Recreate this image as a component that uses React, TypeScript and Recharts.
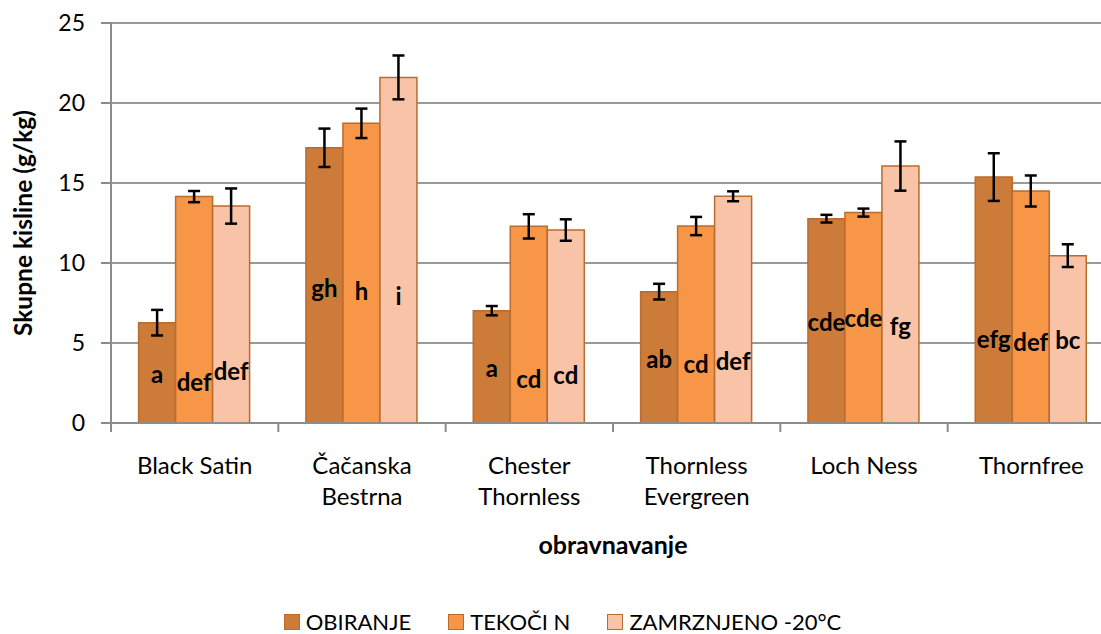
import React from 'react';
import { BarChart, Bar, XAxis, YAxis, CartesianGrid, ErrorBar, LabelList, Legend } from 'recharts';

const categories = ['Black Satin', 'Čačanska\nBestrna', 'Chester\nThornless', 'Thornless\nEvergreen', 'Loch Ness', 'Thornfree'];

const obiranje = [6.27, 17.2, 7.02, 8.21, 12.77, 15.37];
const obiranjeErr = [0.8, 1.2, 0.29, 0.49, 0.24, 1.49];
const obiranjeLetters = ['a', 'gh', 'a', 'ab', 'cde', 'efg'];
const obiranjeLetterAt = [3.0, 8.4, 3.37, 3.94, 6.27, 5.2];

const tekoci = [14.15, 18.73, 12.29, 12.31, 13.15, 14.5];
const tekociErr = [0.35, 0.92, 0.76, 0.57, 0.25, 0.97];
const tekociLetters = ['def', 'h', 'cd', 'cd', 'cde', 'def'];
const tekociLetterAt = [2.5, 8.2, 2.7, 3.6, 6.5, 5.0];

const zamrznjeno = [13.56, 21.6, 12.06, 14.17, 16.06, 10.46];
const zamrznjenoErr = [1.1, 1.37, 0.67, 0.31, 1.54, 0.71];
const zamrznjenoLetters = ['def', 'i', 'cd', 'def', 'fg', 'bc'];
const zamrznjenoLetterAt = [3.2, 7.9, 2.94, 3.8, 6.0, 5.1];

const yTicks = [0, 5, 10, 15, 20, 25];

const data = categories.map((c, i) => ({
  name: c,
  o: obiranje[i], oErr: obiranjeErr[i], oL: obiranjeLetters[i],
  t: tekoci[i], tErr: tekociErr[i], tL: tekociLetters[i],
  z: zamrznjeno[i], zErr: zamrznjenoErr[i], zL: zamrznjenoLetters[i],
}));

const FONT = 'Lato, "Open Sans", sans-serif';
const CHART_W = 1125;
const CHART_H = 634;
const MARGIN = { top: 23, right: 10, left: 0, bottom: 0 };
const Y_W = 111;
const X_H = 211;
const PLOT_W = CHART_W - MARGIN.left - MARGIN.right - Y_W;
const HALF_BAND = PLOT_W / categories.length / 2;
const AXIS_COLOR = '#8C8C8C';
const STROKE = '#BA6B2E';

const CategoryTick = (props: any) => {
  const { x, y, payload } = props;
  const lines = String(payload.value).split('\n');
  return (
    <g>
      <line x1={x - HALF_BAND} x2={x - HALF_BAND} y1={y} y2={y + 9} stroke={AXIS_COLOR} strokeWidth={2} />
      <text x={x} y={y} textAnchor="middle" fill="#000" fontSize={24} fontFamily={FONT}>
        {lines.map((l, i) => (
          <tspan key={i} x={x} dy={i === 0 ? 51 : 31}>{l}</tspan>
        ))}
      </text>
    </g>
  );
};

const makeLetterLabel = (levels: number[], values: number[]) => (props: any) => {
  const { x, y, width, height, value, index } = props;
  const frac = levels[index] / values[index];
  const cy = y + height - height * frac;
  return (
    <text x={x + width / 2} y={cy} dy={8} textAnchor="middle" fill="#000" fontSize={24} fontWeight={700} fontFamily={FONT}>
      {value}
    </text>
  );
};

const LegendContent = (props: any) => {
  const { payload } = props;
  return (
    <div style={{ display: 'flex', justifyContent: 'center', alignItems: 'center', fontFamily: FONT, fontSize: 22, color: '#000', lineHeight: '26px' }}>
      {payload.map((p: any, i: number) => (
        <span key={i} style={{ display: 'flex', alignItems: 'center', marginRight: i < payload.length - 1 ? 37 : 0 }}>
          <span style={{ display: 'inline-block', width: 14, height: 14, background: p.color, border: `1.5px solid ${STROKE}`, marginRight: 6 }} />
          {p.value}
        </span>
      ))}
    </div>
  );
};

export default function App() {
  return (
    <div style={{ position: 'absolute', left: 0, top: 0, width: 1101, height: 634, overflow: 'hidden', background: '#fff' }}>
      <BarChart width={CHART_W} height={CHART_H} data={data} margin={MARGIN} barGap={0} barCategoryGap="16.5%">
        <CartesianGrid vertical={false} stroke="#999" strokeWidth={2} />
        <XAxis
          dataKey="name"
          height={X_H}
          interval={0}
          tick={<CategoryTick />}
          tickLine={false}
          tickSize={0}
          tickMargin={0}
          axisLine={{ stroke: AXIS_COLOR, strokeWidth: 2 }}
          label={{ value: 'obravnavanje', position: 'insideTop', offset: 113, style: { fontFamily: FONT, fontSize: 25, fontWeight: 700, fill: '#000' } }}
        />
        <YAxis
          width={Y_W}
          domain={[0, 25]}
          ticks={yTicks}
          interval={0}
          tickSize={10}
          tickMargin={16}
          tick={{ fontFamily: FONT, fontSize: 23, fill: '#000' }}
          tickLine={{ stroke: AXIS_COLOR, strokeWidth: 2 }}
          axisLine={{ stroke: AXIS_COLOR, strokeWidth: 2 }}
          label={{ value: 'Skupne kisline (g/kg)', angle: -90, position: 'center', dx: -32, style: { fontFamily: FONT, fontSize: 24.5, fontWeight: 700, fill: '#000', textAnchor: 'middle' } }}
        />
        <Legend
          verticalAlign="middle"
          align="center"
          layout="horizontal"
          content={<LegendContent />}
          wrapperStyle={{ top: 609, left: 0, width: CHART_W, bottom: 'auto' }}
        />
        <Bar dataKey="o" name="OBIRANJE" fill="#CC7B38" stroke={STROKE} strokeWidth={1.5} isAnimationActive={false}>
          <ErrorBar dataKey="oErr" width={6} strokeWidth={2.5} stroke="#000" direction="y" />
          <LabelList dataKey="oL" content={makeLetterLabel(obiranjeLetterAt, obiranje)} />
        </Bar>
        <Bar dataKey="t" name="TEKOČI N" fill="#F79646" stroke={STROKE} strokeWidth={1.5} isAnimationActive={false}>
          <ErrorBar dataKey="tErr" width={6} strokeWidth={2.5} stroke="#000" direction="y" />
          <LabelList dataKey="tL" content={makeLetterLabel(tekociLetterAt, tekoci)} />
        </Bar>
        <Bar dataKey="z" name="ZAMRZNJENO -20°C" fill="#F9C3A7" stroke={STROKE} strokeWidth={1.5} isAnimationActive={false}>
          <ErrorBar dataKey="zErr" width={6} strokeWidth={2.5} stroke="#000" direction="y" />
          <LabelList dataKey="zL" content={makeLetterLabel(zamrznjenoLetterAt, zamrznjeno)} />
        </Bar>
      </BarChart>
    </div>
  );
}
